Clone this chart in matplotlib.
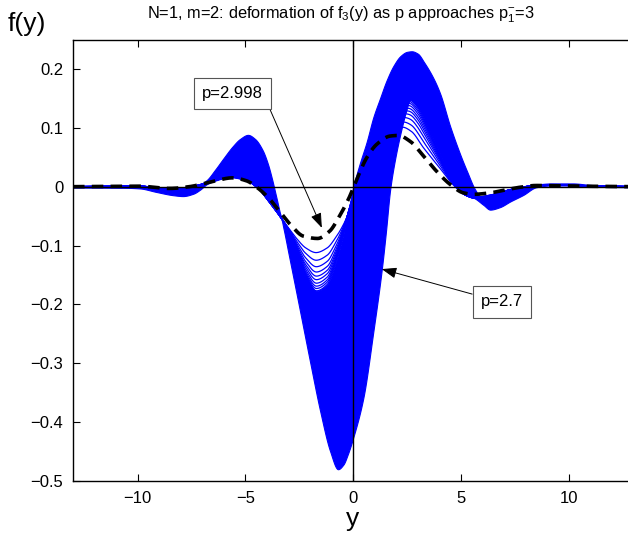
import numpy as np
import matplotlib.pyplot as plt

plt.rcParams['font.family'] = 'Liberation Sans'
plt.rcParams['mathtext.fontset'] = 'custom'
plt.rcParams['mathtext.rm'] = 'Liberation Sans'
plt.rcParams['mathtext.it'] = 'Liberation Sans:italic'

# values (y position, f value)
# upper edge of the solid blue band (family p = 2.7 ... 2.99)
top_x = [-13, -10.5, -9.5, -8.5, -7.6, -7.1, -6.8, -6.4, -6.0, -5.6, -5.25, -4.88, -4.55, -4.2, -3.95,
         -3.77, -3.55, -3.35, -3.0, -2.6, -2.2, -1.7, -1.2, -0.8, -0.5, -0.29, -0.06, 0.0, 0.3, 0.63,
         0.94, 1.25, 1.55, 1.87, 2.2, 2.5, 2.72, 3.0, 3.3, 3.73, 4.04, 4.5, 5.0, 5.3, 5.65, 5.9, 6.4,
         7.2, 8.0, 8.6, 9.2, 10.2, 11, 12, 13]
top_y = [0.0015, 0.002, 0.001, -0.002, 0.0, 0.004, 0.011, 0.029, 0.049, 0.068, 0.081, 0.088, 0.081, 0.062, 0.038,
         0.014, -0.02, -0.05, -0.074, -0.112, -0.150, -0.177, -0.166, -0.128, -0.088, -0.053, -0.013, -0.002, 0.038, 0.076,
         0.118, 0.150, 0.180, 0.205, 0.222, 0.229, 0.230, 0.226, 0.211, 0.184, 0.158, 0.103, 0.052, 0.025, -0.004, -0.016, -0.013,
         -0.005, 0.0, 0.004, 0.0055, 0.0055, 0.003, 0.001, 0.0]

# lower edge of the solid blue band
bot_x = [-13, -10.5, -9.9, -9.13, -8.35, -7.9, -7.42, -7.1, -6.8, -6.5, -5.7, -5.0, -4.4, -3.9, -3.6,
         -3.35, -3.23, -3.0, -2.77, -2.46, -2.0, -1.53, -1.07, -0.7, -0.45, -0.25, 0.0, 0.48, 0.94, 1.33,
         1.52, 1.72, 1.95, 2.26, 2.45, 2.65, 3.0, 3.5, 4.0, 4.5, 4.85, 5.2, 5.6, 6.05, 6.36, 6.8, 7.3,
         7.9, 8.5, 9.2, 10.2, 11, 13]
bot_y = [-0.0015, -0.002, -0.003, -0.009, -0.0145, -0.016, -0.012, -0.005, 0.004, 0.009, 0.016, 0.011, -0.003, -0.024, -0.038,
         -0.052, -0.071, -0.113, -0.155, -0.212, -0.297, -0.381, -0.449, -0.480, -0.472, -0.455, -0.427, -0.358, -0.246, -0.141,
         -0.078, -0.005, 0.047, 0.100, 0.127, 0.147, 0.135, 0.098, 0.058, 0.018, 0.0, -0.014, -0.019, -0.031, -0.039, -0.035, -0.025,
         -0.014, -0.001, 0.002, 0.002, 0.0, -0.001]

# innermost blue curve (p = 2.99)
inner_x = [-13, -10, -8.5, -7.5, -6.5, -5.7, -5.0, -4.4, -3.9, -3.4, -3.0, -2.6, -2.2, -1.72, -1.2, -0.8,
           -0.5, -0.29, 0.0, 0.5, 1.0, 1.6, 2.0, 2.3, 2.7, 3.27, 4.04, 4.65, 5.15, 5.6, 6.4, 7.2, 8.0, 8.6, 10.2, 13]
inner_y = [0.0, 0.001, -0.004, 0.0, 0.009, 0.016, 0.011, -0.003, -0.024, -0.05, -0.07, -0.089, -0.104, -0.112, -0.104, -0.086,
           -0.068, -0.052, -0.022, 0.025, 0.062, 0.090, 0.099, 0.101, 0.094, 0.066, 0.031, 0.003, -0.013, -0.018, -0.014, -0.006, 0.0, 0.003, 0.002, 0.0]

# last blue curve that is still seen on its own
edge_x = [-13, -10, -8.5, -7.5, -6.5, -5.7, -5.0, -4.4, -3.9, -3.4, -3.0, -2.6, -2.2, -1.7, -1.2, -0.8,
          -0.5, -0.29, 0.0, 0.5, 1.0, 1.5, 2.0, 2.6, 3.0, 3.5, 4.0, 4.5, 4.85, 5.2, 5.7, 6.4, 7.2, 8.0, 8.6, 10.2, 13]
edge_y = [0.0, 0.001, -0.004, 0.0, 0.010, 0.018, 0.013, -0.003, -0.026, -0.05, -0.074, -0.112, -0.150, -0.177, -0.166, -0.128,
          -0.088, -0.053, -0.015, 0.04, 0.085, 0.118, 0.138, 0.148, 0.135, 0.098, 0.058, 0.018, 0.0, -0.014, -0.020, -0.016, -0.006, 0.0, 0.003, 0.002, 0.0]

# depth of the separate blue lines at the trough
trough_depth = [-0.112, -0.125, -0.136, -0.145, -0.152, -0.158, -0.164, -0.169, -0.173, -0.177]

# dashed curve (p = 2.998)
dash_x = [-13, -10, -8.5, -7.6, -6.5, -5.6, -4.95, -4.4, -3.9, -3.54, -2.92, -2.31, -1.65, -1.1, -0.6,
          -0.2, 0.2, 0.63, 1.1, 1.72, 2.1, 2.65, 3.27, 3.88, 4.5, 5.12, 5.58, 6.36, 7.13, 7.75, 8.5, 10.2, 13]
dash_y = [0.0, 0.001, -0.003, 0.0, 0.009, 0.015, 0.010, -0.003, -0.02, -0.036, -0.064, -0.084, -0.088, -0.076, -0.048,
          -0.020, 0.015, 0.049, 0.072, 0.086, 0.087, 0.077, 0.052, 0.026, 0.004, -0.0105, -0.013, -0.0105, -0.005, -0.001, 0.002, 0.001, 0.0]

xticks = [-10, -5, 0, 5, 10]
xtick_labels = ['\u221210', '\u22125', '0', '5', '10']
yticks = [-0.5, -0.4, -0.3, -0.2, -0.1, 0, 0.1, 0.2]
ytick_labels = ['\u22120.5', '\u22120.4', '\u22120.3', '\u22120.2', '\u22120.1', '0', '0.1', '0.2']


def pchip(xk, yk, xs):
    # monotone cubic through the read points
    xk = np.asarray(xk, float)
    yk = np.asarray(yk, float)
    h = np.diff(xk)
    d = np.diff(yk) / h
    m = np.zeros_like(yk)
    for i in range(1, len(xk) - 1):
        if d[i - 1] * d[i] > 0:
            w1 = 2 * h[i] + h[i - 1]
            w2 = h[i] + 2 * h[i - 1]
            m[i] = (w1 + w2) / (w1 / d[i - 1] + w2 / d[i])
    m[0] = d[0]
    m[-1] = d[-1]
    idx = np.clip(np.searchsorted(xk, xs) - 1, 0, len(h) - 1)
    t = (xs - xk[idx]) / h[idx]
    return ((2 * t**3 - 3 * t**2 + 1) * yk[idx] + (t**3 - 2 * t**2 + t) * h[idx] * m[idx]
            + (-2 * t**3 + 3 * t**2) * yk[idx + 1] + (t**3 - t**2) * h[idx] * m[idx + 1])


xs = np.linspace(-13, 12.76, 3000)
band_hi = pchip(top_x, top_y, xs)
band_lo = pchip(bot_x, bot_y, xs)
f_in = pchip(inner_x, inner_y, xs)
f_edge = pchip(edge_x, edge_y, xs)
f_dash = pchip(dash_x, dash_y, xs)

fig = plt.figure(figsize=(6.28, 5.37), dpi=100)
ax = fig.add_axes([73 / 628, 56 / 537, 555 / 628, 441.5 / 537])

ax.fill_between(xs, band_lo, band_hi, color='#0000ff', lw=0.8, zorder=2)
for d in trough_depth:
    w = (d - trough_depth[0]) / (trough_depth[-1] - trough_depth[0])
    ax.plot(xs, f_in + w * (f_edge - f_in), color='#0000ff', lw=0.9, zorder=2)

ax.axhline(0, color='k', lw=1.0, zorder=3)
ax.axvline(0, color='k', lw=1.0, zorder=3)
ax.plot(xs, f_dash, color='k', lw=2.6, dashes=(3.2, 2.0), zorder=4)

ax.annotate('p=2.998', xy=(-1.45, -0.070), xytext=(-5.59, 0.158), fontsize=12,
            ha='center', va='center',
            bbox=dict(boxstyle='square,pad=0.5', fc='white', ec='#555555', lw=0.8),
            arrowprops=dict(arrowstyle='-|>,head_length=0.6,head_width=0.22', color='k', lw=0.7,
                            relpos=(1, 0.5), shrinkA=0, shrinkB=0, mutation_scale=15),
            zorder=6)
ax.annotate('p=2.7', xy=(1.33, -0.140), xytext=(6.91, -0.1955), fontsize=12,
            ha='center', va='center',
            bbox=dict(boxstyle='square,pad=0.5', fc='white', ec='#555555', lw=0.8),
            arrowprops=dict(arrowstyle='-|>,head_length=0.6,head_width=0.22', color='k', lw=0.7,
                            relpos=(0, 0.85), shrinkA=0, shrinkB=0, mutation_scale=15),
            zorder=6)

ax.set_xlim(-13, 12.76)
ax.set_ylim(-0.5, 0.25)
ax.set_xticks(xticks)
ax.set_xticklabels(xtick_labels)
ax.set_yticks(yticks)
ax.set_yticklabels(ytick_labels)
ax.tick_params(direction='in', length=5, width=0.8, top=True, right=False, labelsize=12, pad=7)
ax.spines['right'].set_visible(False)
for s in ['left', 'top', 'bottom']:
    ax.spines[s].set_linewidth(1.0)

fig.text(0.543, 0.973, r'N=1, m=2: deformation of f$_3$(y) as p approaches p$_1^{-}$=3',
         ha='center', va='center', fontsize=11.8)
fig.text(0.012, 0.955, 'f(y)', ha='left', va='center', fontsize=19)
fig.text(353 / 628, 1 - 519 / 537, 'y', ha='center', va='center', fontsize=19)

fig.savefig('out.png', dpi=100)
